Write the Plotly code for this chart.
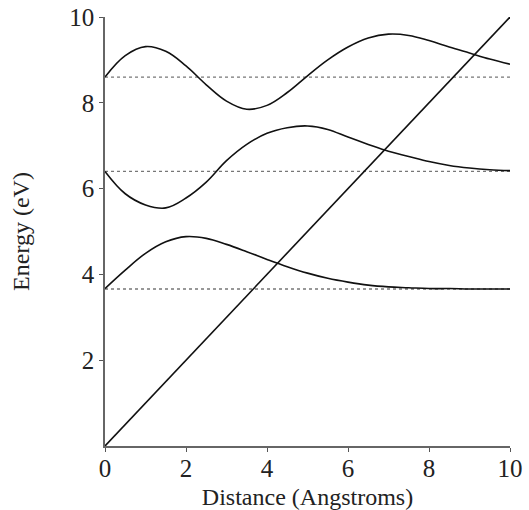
import plotly.graph_objects as go

# Data
distance = [0, 0.5, 1.0, 1.5, 2.0, 2.5, 3.0, 3.5, 4.0, 4.5, 5.0, 5.5, 6.0, 6.5,
            7.0, 7.5, 8.0, 8.5, 9.0, 9.5, 10.0]
upper_curve = [8.60, 9.10, 9.31, 9.20, 8.86, 8.42, 8.04, 7.85, 7.94, 8.24, 8.63,
               9.00, 9.30, 9.51, 9.60, 9.57, 9.45, 9.30, 9.16, 9.02, 8.90]
middle_curve = [6.40, 5.88, 5.62, 5.55, 5.78, 6.15, 6.65, 7.03, 7.29, 7.42, 7.46,
                7.38, 7.20, 7.03, 6.87, 6.75, 6.63, 6.54, 6.48, 6.44, 6.42]
lower_curve = [3.67, 4.10, 4.49, 4.76, 4.88, 4.84, 4.70, 4.53, 4.35, 4.18, 4.03,
               3.91, 3.82, 3.75, 3.71, 3.69, 3.67, 3.67, 3.66, 3.66, 3.66]
diagonal_x = [0, 10]
diagonal_y = [0, 10]
levels = [3.66, 6.40, 8.60]
level_x = [0, 10]
x_ticks = [0, 2, 4, 6, 8, 10]
y_ticks = [2, 4, 6, 8, 10]

FONT = "Liberation Serif, Times New Roman, serif"

fig = go.Figure()

for lv in levels:
    fig.add_trace(go.Scatter(x=level_x, y=[lv, lv], mode="lines",
                             line=dict(color="#777777", width=1.3, dash="dot"),
                             hoverinfo="skip", showlegend=False))

for ys in (upper_curve, middle_curve, lower_curve):
    fig.add_trace(go.Scatter(x=distance, y=ys, mode="lines",
                             line=dict(color="#111111", width=1.6, shape="spline", smoothing=1.1),
                             showlegend=False))

fig.add_trace(go.Scatter(x=diagonal_x, y=diagonal_y, mode="lines",
                         line=dict(color="#111111", width=1.6), showlegend=False))

axis_common = dict(range=[0, 10], showgrid=False, zeroline=False, automargin=False)

fig.update_layout(
    width=529, height=510,
    margin=dict(l=105, r=19, t=17, b=64),
    paper_bgcolor="white", plot_bgcolor="white",
    font=dict(family=FONT, size=24, color="#222222"),
    xaxis=dict(**axis_common, tickvals=x_ticks, ticks="outside", ticklen=4,
               tickcolor="#555555", tickwidth=1.3, ticklabelstandoff=-5,
               showline=True, linecolor="#666666", linewidth=1.5,
               tickfont=dict(family=FONT, size=25, color="#222222"),
               title=dict(text="Distance (Angstroms)", standoff=14,
                          font=dict(family=FONT, size=24, color="#222222"))),
    yaxis=dict(**axis_common, tickvals=y_ticks, ticks="outside", ticklen=4,
               tickcolor="#555555", tickwidth=1.3,
               showline=True, linecolor="#666666", linewidth=1.5,
               tickfont=dict(family=FONT, size=25, color="#222222"),
               title=dict(text="Energy (eV)", standoff=33,
                          font=dict(family=FONT, size=24, color="#222222"))),
    xaxis2=dict(**axis_common, overlaying="x", anchor="y", side="bottom",
                tickvals=x_ticks, ticks="inside", ticklen=4, tickcolor="#555555",
                tickwidth=1.3, showticklabels=False, showline=False),
    yaxis2=dict(**axis_common, overlaying="y", anchor="x", side="left",
                tickvals=y_ticks, ticks="inside", ticklen=4, tickcolor="#555555",
                tickwidth=1.3, showticklabels=False, showline=False),
)

fig.write_html("out.html", config={"displayModeBar": False},
               post_script="document.body.style.margin='0';")
